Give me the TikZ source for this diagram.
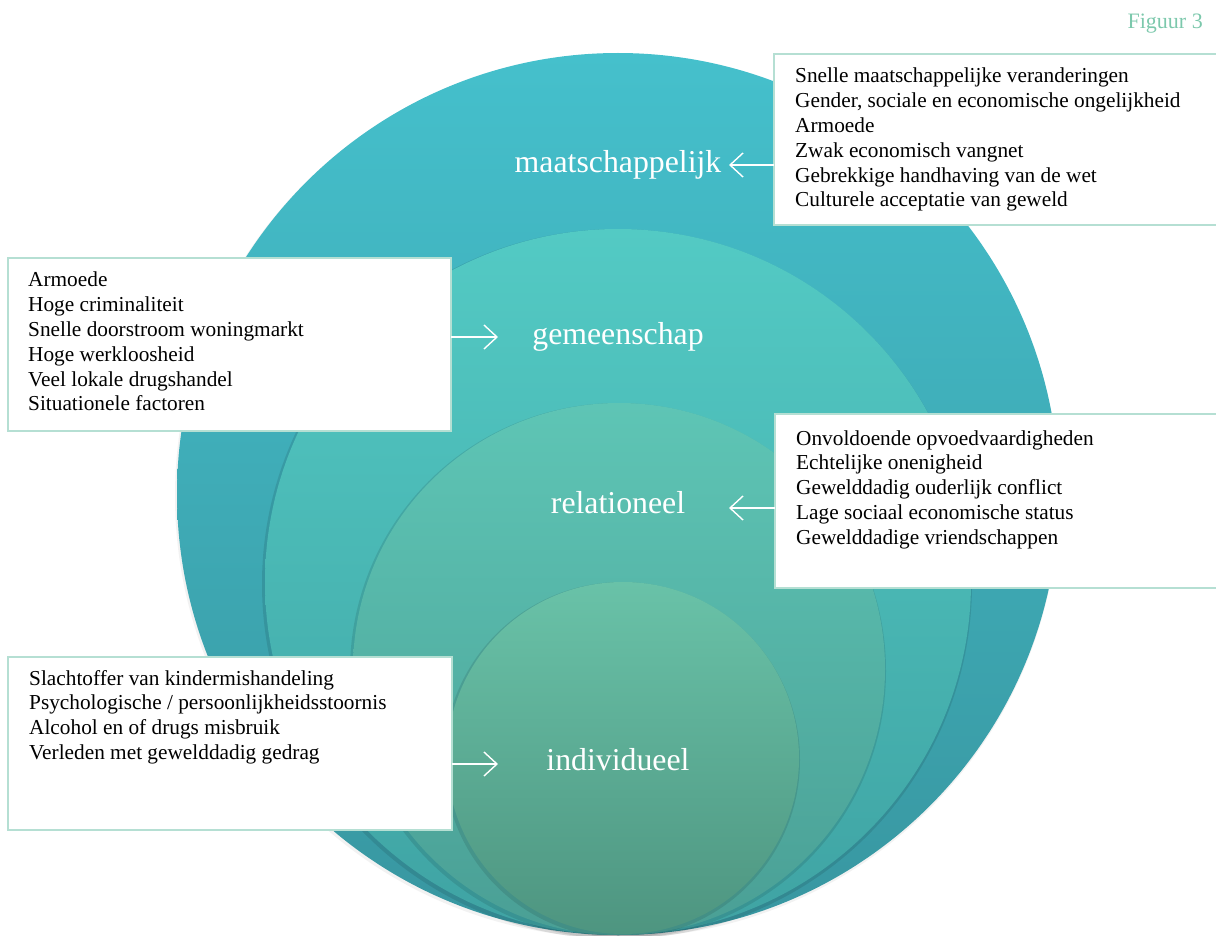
\documentclass[tikz,border=0pt]{standalone}
\usepackage{fontspec}
\setmainfont{Liberation Serif}
\usetikzlibrary{arrows.meta}
\definecolor{oTop}{HTML}{45C0CC}
\definecolor{oBot}{HTML}{3896A0}
\definecolor{gTop}{HTML}{53CAC4}
\definecolor{gBot}{HTML}{3FA3A3}
\definecolor{rTop}{HTML}{5EC5B5}
\definecolor{rBot}{HTML}{4A9F95}
\definecolor{iTop}{HTML}{69C2A8}
\definecolor{iBot}{HTML}{4E9580}
\definecolor{boxline}{HTML}{B5DFD3}
\definecolor{figcol}{HTML}{7CC8AC}
\tikzset{
  ring/.style={draw=none},
  shadowring/.style={fill=black, fill opacity=0.10, draw=none},
  outershadow/.style={fill=black, fill opacity=0.05, draw=none},
  box/.style={draw=boxline, line width=1.8pt, fill=white, inner sep=0pt, outer sep=0pt, anchor=north west},
  list/.style={anchor=base west, inner sep=0pt, font=\fontsize{21.3}{24.8}\selectfont},
  lvl/.style={anchor=base, text=white, inner sep=2pt, font=\fontsize{31.8}{36}\selectfont},
  arr/.style={draw=white, line width=1.4pt, -{Straight Barb[length=13pt,width=24pt,line width=1.4pt]}}
}
\begin{document}
\begin{tikzpicture}[x=1pt,y=-1pt]
\useasboundingbox (0,0) rectangle (1216,936);
% circles
\fill[outershadow] (617,496) circle[radius=442];
\shade[ring, top color=oTop, bottom color=oBot] (618,494) circle[radius=441];
\fill[shadowring] (617,584) circle[radius=355];
\shade[ring, top color=gTop, bottom color=gBot] (618,582) circle[radius=353];
\fill[shadowring] (618,671) circle[radius=268];
\shade[ring, top color=rTop, bottom color=rBot] (619,669) circle[radius=266];
\fill[shadowring] (622,760) circle[radius=178];
\shade[ring, top color=iTop, bottom color=iBot] (623,758) circle[radius=176];
% title
\node[anchor=base east, inner sep=0pt, text=figcol, font=\fontsize{22}{26}\selectfont] (fig) at (1203,29) {Figuur 3};
% level labels
\node[lvl] (lM) at (618,173) {maatschappelijk};
\node[lvl] (lG) at (618,344) {gemeenschap};
\node[lvl] (lR) at (618,513) {relationeel};
\node[lvl] (lI) at (618,770) {individueel};
% boxes
\node[box, minimum width=460pt, minimum height=171pt] (bM) at (774,54) {};
\node[box, minimum width=443pt, minimum height=173pt] (bG) at (8,258) {};
\node[box, minimum width=460pt, minimum height=174pt] (bR) at (775,414) {};
\node[box, minimum width=444pt, minimum height=173pt] (bI) at (8,657) {};
% lists
\node[list] (tM) at (795,83) {\begin{tabular}[t]{@{}l@{}}
Snelle maatschappelijke veranderingen\\
Gender, sociale en economische ongelijkheid\\
Armoede\\
Zwak economisch vangnet\\
Gebrekkige handhaving van de wet\\
Culturele acceptatie van geweld
\end{tabular}};
\node[list] (tG) at (28,287) {\begin{tabular}[t]{@{}l@{}}
Armoede\\
Hoge criminaliteit\\
Snelle doorstroom woningmarkt\\
Hoge werkloosheid\\
Veel lokale drugshandel\\
Situationele factoren
\end{tabular}};
\node[list] (tR) at (796,445) {\begin{tabular}[t]{@{}l@{}}
Onvoldoende opvoedvaardigheden\\
Echtelijke onenigheid\\
Gewelddadig ouderlijk conflict\\
Lage sociaal economische status\\
Gewelddadige vriendschappen
\end{tabular}};
\node[list] (tI) at (29,685) {\begin{tabular}[t]{@{}l@{}}
Slachtoffer van kindermishandeling\\
Psychologische / persoonlijkheidsstoornis\\
Alcohol en of drugs misbruik\\
Verleden met gewelddadig gedrag
\end{tabular}};
% arrows
\coordinate (aM) at (729,165);
\coordinate (aG) at (498,337);
\coordinate (aR) at (729,508);
\coordinate (aI) at (498,764);
\draw[arr] (bM.west |- aM) -- (aM);
\draw[arr] (bG.east |- aG) -- (aG);
\draw[arr] (bR.west |- aR) -- (aR);
\draw[arr] (bI.east |- aI) -- (aI);
\end{tikzpicture}
\end{document}
